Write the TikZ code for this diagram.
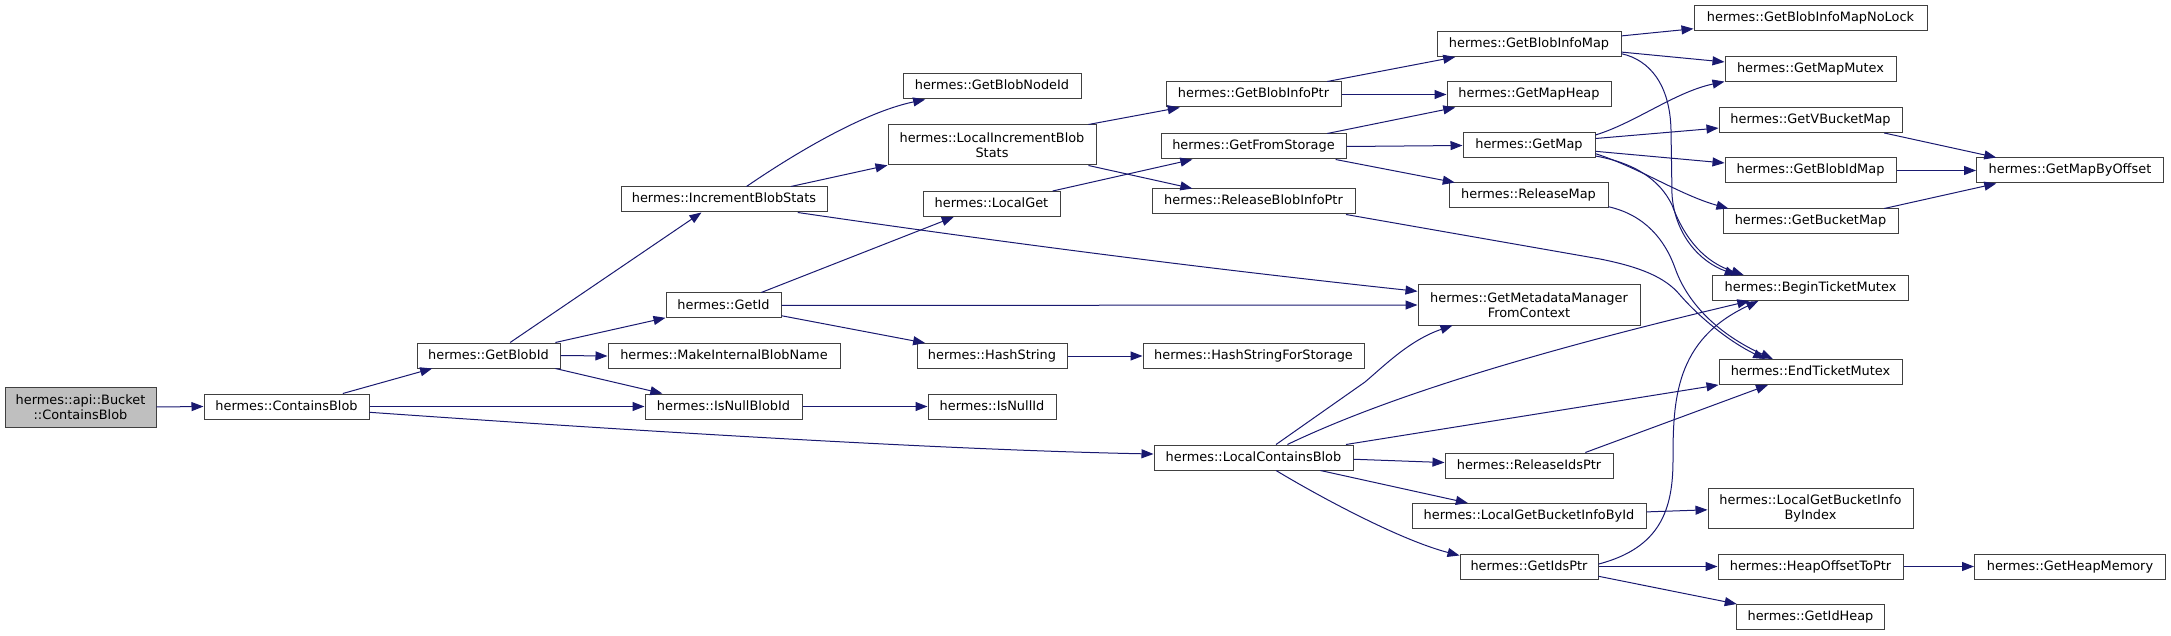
\documentclass[tikz,border=0pt]{standalone}
\usepackage{fontspec}
\setmainfont{DejaVu Sans}
\usetikzlibrary{arrows.meta}
\definecolor{edgecol}{HTML}{191970}
\definecolor{nodeborder}{HTML}{404040}
\definecolor{rootfill}{HTML}{BFBFBF}
\tikzset{
  box/.style={draw=nodeborder, fill=white, line width=1pt, inner sep=0pt, align=center,
    font=\fontsize{12.9}{15}\selectfont, minimum height=25},
  one/.style={text height=9.6pt, text depth=2.6pt},
  two/.style={minimum height=40},
  call/.style={draw=edgecol, line width=1pt, -{Triangle[length=12pt,width=9pt]}}
}
\begin{document}
\begin{tikzpicture}[x=1pt,y=-1pt]
\useasboundingbox (0,0) rectangle (2171,636);
% column 0-3
\node[box,two,fill=rootfill,minimum width=151] (root) at (80.5,407) {hermes::api::Bucket\\::ContainsBlob};
\node[box,one,minimum width=165] (cb) at (286.5,406.5) {hermes::ContainsBlob};
\node[box,one,minimum width=143] (gbi) at (488.5,355.5) {hermes::GetBlobId};
\node[box,one,minimum width=206] (ibs) at (724,199.5) {hermes::IncrementBlobStats};
\node[box,one,minimum width=115] (gid) at (723.5,305.5) {hermes::GetId};
\node[box,one,minimum width=232] (mibn) at (724,356) {hermes::MakeInternalBlobName};
\node[box,one,minimum width=157] (inbi) at (723.5,406.5) {hermes::IsNullBlobId};
% column 4
\node[box,one,minimum width=178] (gbni) at (992,86.5) {hermes::GetBlobNodeId};
\node[box,two,minimum width=208] (libs) at (992,145) {hermes::LocalIncrementBlob\\Stats};
\node[box,one,minimum width=137] (lg) at (991.5,204) {hermes::LocalGet};
\node[box,one,minimum width=150] (hs) at (992,356) {hermes::HashString};
\node[box,one,minimum width=128] (ini) at (992,406.5) {hermes::IsNullId};
% column 5
\node[box,one,minimum width=175] (gbip) at (1253.5,94.5) {hermes::GetBlobInfoPtr};
\node[box,one,minimum width=185] (gfs) at (1253.5,146.5) {hermes::GetFromStorage};
\node[box,one,minimum width=203] (rbip) at (1253.5,201.5) {hermes::ReleaseBlobInfoPtr};
\node[box,one,minimum width=221] (hsfs) at (1253.5,356) {hermes::HashStringForStorage};
\node[box,one,minimum width=199] (lcb) at (1253.5,457.5) {hermes::LocalContainsBlob};
% column 6
\node[box,one,minimum width=184] (gbim) at (1529,44) {hermes::GetBlobInfoMap};
\node[box,one,minimum width=164] (gmh) at (1529,94.5) {hermes::GetMapHeap};
\node[box,one,minimum width=132] (gm) at (1529,145.5) {hermes::GetMap};
\node[box,one,minimum width=159] (rm) at (1528.5,195.5) {hermes::ReleaseMap};
\node[box,two,minimum width=222] (gmmfc) at (1529,305) {hermes::GetMetadataManager\\FromContext};
\node[box,one,minimum width=168] (rip) at (1529,465.5) {hermes::ReleaseIdsPtr};
\node[box,one,minimum width=234] (lgbibi) at (1529,516) {hermes::LocalGetBucketInfoById};
\node[box,one,minimum width=138] (gip) at (1529,566.5) {hermes::GetIdsPtr};
% column 7
\node[box,one,minimum width=233] (gbimnl) at (1810.5,18.5) {hermes::GetBlobInfoMapNoLock};
\node[box,one,minimum width=171] (gmm) at (1810.5,69.5) {hermes::GetMapMutex};
\node[box,one,minimum width=183] (gvbm) at (1810.5,120) {hermes::GetVBucketMap};
\node[box,one,minimum width=171] (gbidm) at (1810.5,170.5) {hermes::GetBlobIdMap};
\node[box,one,minimum width=175] (gbm) at (1810.5,221.5) {hermes::GetBucketMap};
\node[box,one,minimum width=196] (btm) at (1810.5,288) {hermes::BeginTicketMutex};
\node[box,one,minimum width=183] (etm) at (1810.5,372) {hermes::EndTicketMutex};
\node[box,two,minimum width=205] (lgbix) at (1810.5,508) {hermes::LocalGetBucketInfo\\ByIndex};
\node[box,one,minimum width=185] (hotp) at (1810.5,566.5) {hermes::HeapOffsetToPtr};
\node[box,one,minimum width=148] (gih) at (1810.5,617) {hermes::GetIdHeap};
% column 8
\node[box,one,minimum width=187] (gmbo) at (2070,170.5) {hermes::GetMapByOffset};
\node[box,one,minimum width=191] (ghm) at (2070,566.5) {hermes::GetHeapMemory};

% edges
\draw[call] (root.east) -- (cb.west);
\draw[call] (cb.13.8) -- (gbi.193.8);
\draw[call] (cb.east) -- (inbi.west);
\draw[call] (cb.-4.5) .. controls (650,432) and (950,450) .. (lcb.178);
\draw[call] (gbi.31.4) -- (ibs.210.2);
\draw[call] (gbi.11.9) -- (gid.192.3);
\draw[call] (gbi.east) -- (mibn.west);
\draw[call] (gbi.-11.9) -- (inbi.168);
\draw[call] (ibs.30.3) .. controls (785,160) and (860,113) .. (gbni.191);
\draw[call] (ibs.11.3) -- (libs.191.5);
\draw[call] (ibs.-10.7) .. controls (1000,242) and (1200,268) .. (gmmfc.173.7);
\draw[call] (gid.19.9) -- (lg.199.4);
\draw[call] (gid.east) -- (gmmfc.west);
\draw[call] (gid.-10.3) -- (hs.169.2);
\draw[call] (libs.12.1) -- (gbip.190.7);
\draw[call] (libs.-12) -- (rbip.168.7);
\draw[call] (lg.12.4) -- (gfs.192);
\draw[call] (gbip.10.2) -- (gbim.190.1);
\draw[call] (gbip.east) -- (gmh.west);
\draw[call] (gfs.10.4) -- (gmh.190.4);
\draw[call] (gfs.east) -- (gm.west);
\draw[call] (gfs.-9.7) -- (rm.170.1);
\draw[call] (rbip.-8.4) -- (1600,259) .. controls (1640,267) and (1665,277) .. (1680,295) .. controls (1700,318) and (1730,342) .. (etm.164);
\draw[call] (rm.-8.9) .. controls (1645,215) and (1665,240) .. (1675,268) .. controls (1688,305) and (1720,335) .. (etm.161.5);
\draw[call] (gbim.5.6) -- (gbimnl.185.3);
\draw[call] (gbim.-5.2) -- (gmm.175.5);
\draw[call] (gbim.-6) .. controls (1650,60) and (1670,85) .. (1671,130) -- (1672,195) .. controls (1675,235) and (1700,262) .. (btm.170.5);
\draw[call] (gm.9) .. controls (1635,123) and (1675,92) .. (gmm.188.8);
\draw[call] (gm.6.5) -- (gvbm.185.2);
\draw[call] (gm.-5.2) -- (gbidm.175.1);
\draw[call] (gm.-7.3) .. controls (1640,168) and (1680,195) .. (gbm.171.2);
\draw[call] (gm.-9) .. controls (1635,163) and (1660,180) .. (1672,205) .. controls (1685,240) and (1705,262) .. (btm.169.3);
\draw[call] (gvbm.-10.8) -- (gmbo.170);
\draw[call] (gbidm.east) -- (gmbo.west);
\draw[call] (gbm.10.6) -- (gmbo.190);
\draw[call] (lcb.30.2) -- (1365,382) .. controls (1385,365) and (1410,340) .. (gmmfc.195.5);
\draw[call] (lcb.21) .. controls (1370,405) and (1500,360) .. (btm.192.7);
\draw[call] (lcb.8.5) -- (etm.188.2);
\draw[call] (lcb.-1.4) -- (rip.178.1);
\draw[call] (lcb.-11.7) -- (lgbibi.168);
\draw[call] (lcb.-30.2) .. controls (1320,497) and (1400,540) .. (gip.171.3);
\draw[call] (rip.13.8) -- (etm.197.8);
\draw[call] (lgbibi.2.2) -- (lgbix.181.7);
\draw[call] (gip.2.9) .. controls (1660,548) and (1673,510) .. (1673,460) .. controls (1673,400) and (1675,340) .. (btm.194.4);
\draw[call] (gip.east) -- (hotp.west);
\draw[call] (gip.-8.7) -- (gih.170);
\draw[call] (hotp.east) -- (ghm.west);
\draw[call] (hs.east) -- (hsfs.west);
\draw[call] (inbi.east) -- (ini.west);
\end{tikzpicture}
\end{document}
